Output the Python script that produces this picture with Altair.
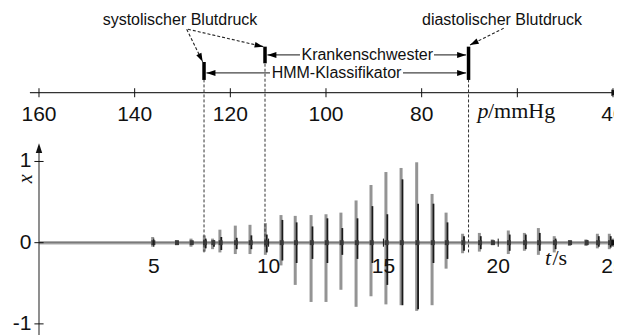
import altair as alt
import pandas as pd

# ---------------- data ----------------
# heart-beat bursts of the oscillometric signal x(t)
BEAT_T = [4.98, 6.01, 6.65, 7.23, 7.59, 7.91, 8.58, 9.22, 9.89, 10.57, 11.19, 11.88,
          12.53, 13.18, 13.84, 14.49, 15.14, 15.80, 16.48, 17.15, 17.76, 18.48, 19.21,
          19.77, 20.47, 21.17, 21.78, 22.47, 23.13, 23.85, 24.35, 24.87]
BEAT_HI = [0.07, 0.03, 0.05, 0.09, 0.05, 0.16, 0.21, 0.22, 0.24, 0.34, 0.33, 0.34,
           0.35, 0.37, 0.52, 0.71, 0.87, 0.92, 0.99, 0.60, 0.37, 0.11, 0.12,
           0.04, 0.15, 0.12, 0.18, 0.08, 0.03, 0.04, 0.11, 0.11]
BEAT_LO = [-0.05, -0.03, -0.05, -0.11, -0.08, -0.12, -0.14, -0.14, -0.15, -0.28, -0.52, -0.73,
           -0.73, -0.58, -0.79, -0.66, -0.76, -0.77, -0.84, -0.77, -0.32, -0.13, -0.11,
           -0.03, -0.14, -0.10, -0.15, -0.12, -0.04, -0.04, -0.07, -0.08]
CORE_HI = [0.02, 0.01, 0.02, 0.05, 0.03, 0.07, 0.06, 0.09, 0.10, 0.28, 0.25, 0.20,
           0.30, 0.18, 0.30, 0.45, 0.35, 0.78, 0.48, 0.48, 0.25, 0.08, 0.08,
           0.02, 0.10, 0.10, 0.12, 0.05, 0.02, 0.03, 0.08, 0.08]
CORE_LO = [-0.02, -0.01, -0.02, -0.07, -0.05, -0.09, -0.08, -0.08, -0.12, -0.22, -0.25, -0.20,
           -0.25, -0.15, -0.20, -0.25, -0.52, -0.77, -0.82, -0.25, -0.20, -0.10, -0.08,
           -0.02, -0.10, -0.08, -0.10, -0.08, -0.02, -0.03, -0.05, -0.06]
T_START, T_END = 0.0, 25.0

# axes
T_TICKS = [5, 10, 15, 20, 25]
T_LABELS = ["5", "10", "15", "20", "25"]
X_TICKS = [1, 0, -1]
X_LABELS = ["1", "0", "-1"]
P_TICKS = [160, 140, 120, 100, 80, 60, 40]
P_LABELED = [160, 140, 120, 100, 80, 40]          # the 60 label is replaced by the unit
P_LABELS = ["160", "140", "120", "100", "80", "40"]

# detected blood pressures (mmHg)
SYS_HMM = 125.5
SYS_NURSE = 112.75
DIA_HMM = 70.2
DIA_NURSE = 70.2

SYS_TEXT = "systolischer Blutdruck"
DIA_TEXT = "diastolischer Blutdruck"
NURSE_TEXT = "Krankenschwester"
HMM_TEXT = "HMM-Klassifikator"

# ---------------- scales ----------------
T_SCALE = alt.Scale(domain=[-1.35, 25.043], nice=False, zero=False)
P_SCALE = alt.Scale(domain=[166.48, 39.79], nice=False, zero=False)
Y_SCALE = alt.Scale(domain=[-1.137, 2.890], nice=False, zero=False)

SANS = "Liberation Sans"
SERIF = "Liberation Serif"
ARROW = "M0,0L-0.33,1L0.33,1Z"
INK = "#111111"


def XT(f):
    return alt.X(f, type="quantitative", scale=T_SCALE, axis=None)


def XP(f):
    return alt.X(f, type="quantitative", scale=P_SCALE, axis=None)


def YV(f):
    return alt.Y(f, type="quantitative", scale=Y_SCALE, axis=None)


def YD(v):
    return alt.YDatum(v, scale=Y_SCALE, axis=None)


beats = pd.DataFrame({"t": BEAT_T, "hi": BEAT_HI, "lo": BEAT_LO,
                      "chi": CORE_HI, "clo": CORE_LO})

layers = []

# baseline noise band
base = pd.DataFrame({"t0": [T_START], "t1": [T_END], "v": [0.0]})
layers.append(alt.Chart(base).mark_rule(color="#ababab", strokeWidth=3.5)
              .encode(x=XT("t0"), x2="t1", y=YV("v")))
# time axis line (thin, on the band)
tax = pd.DataFrame({"t0": [0.0], "t1": [25.6], "v": [0.0]})
layers.append(alt.Chart(tax).mark_rule(color="#6a6a6a", strokeWidth=0.9)
              .encode(x=XT("t0"), x2="t1", y=YV("v")))
# bursts
layers.append(alt.Chart(beats).mark_rule(color="#949494", strokeWidth=3, xOffset=-0.7)
              .encode(x=XT("t"), y=YV("lo"), y2="hi"))
layers.append(alt.Chart(beats).mark_rule(color="#1a1a1a", strokeWidth=1.8, xOffset=0.7)
              .encode(x=XT("t"), y=YV("clo"), y2="chi"))
layers.append(alt.Chart(beats).mark_rule(color="#3a3a3a", strokeWidth=4)
              .encode(x=XT("t"), y=YD(-0.03), y2=alt.Y2Datum(0.03)))

# time axis ticks and labels
tt = pd.DataFrame({"t": T_TICKS, "lab": T_LABELS})
layers.append(alt.Chart(tt).mark_rule(color=INK, strokeWidth=1)
              .encode(x=XT("t"), y=YD(-0.05), y2=alt.Y2Datum(0.05)))
layers.append(alt.Chart(tt).mark_text(font=SANS, fontSize=21, color=INK,
                                      align="center", baseline="middle")
              .encode(x=XT("t"), y=YD(-0.296), text="lab:N"))

# x axis (vertical)
yax = pd.DataFrame({"t": [0.0], "v0": [-1.137], "v1": [1.17]})
layers.append(alt.Chart(yax).mark_rule(color="#444444", strokeWidth=1.2)
              .encode(x=XT("t"), y=YV("v0"), y2="v1"))
yt = pd.DataFrame({"v": X_TICKS, "lab": X_LABELS})
layers.append(alt.Chart(yt).mark_rule(color=INK, strokeWidth=1)
              .encode(x=alt.XDatum(-0.2, scale=T_SCALE, axis=None), x2=alt.X2Datum(0.2),
                      y=YV("v")))
layers.append(alt.Chart(yt).mark_text(font=SANS, fontSize=21, color=INK,
                                      align="right", baseline="middle")
              .encode(x=alt.XDatum(-0.33, scale=T_SCALE, axis=None), y=YV("v"), text="lab:N"))

# axis arrowheads (time / x)
ah = pd.DataFrame({"t": [25.35, 0.0], "v": [0.0, 1.224], "ang": [90, 0]})
layers.append(alt.Chart(ah).mark_point(shape=ARROW, filled=True, size=380, color=INK,
                                       opacity=1, strokeWidth=0)
              .encode(x=XT("t"), y=YV("v"), angle=alt.Angle("ang:Q", scale=None)))

# axis titles
layers.append(alt.Chart(pd.DataFrame({"s": ["x"]})).mark_text(
    font=SERIF, fontSize=20, fontStyle="italic", angle=270, align="center",
    baseline="middle", color=INK)
    .encode(x=alt.XDatum(-0.566, scale=T_SCALE, axis=None), y=YD(0.785), text="s:N"))
layers.append(alt.Chart(pd.DataFrame({"s": ["t"]})).mark_text(
    font=SERIF, fontSize=22, fontStyle="italic", align="left", baseline="alphabetic",
    color=INK)
    .encode(x=alt.XDatum(22.04, scale=T_SCALE, axis=None), y=YD(-0.275), text="s:N"))
layers.append(alt.Chart(pd.DataFrame({"s": ["/s"]})).mark_text(
    font=SERIF, fontSize=22, align="left", baseline="alphabetic", color=INK)
    .encode(x=alt.XDatum(22.36, scale=T_SCALE, axis=None), y=YD(-0.275), text="s:N"))

# ---------------- pressure axis (top) ----------------
pax = pd.DataFrame({"p0": [161.9], "p1": [38.5], "v": [1.847]})
layers.append(alt.Chart(pax).mark_rule(color="#333333", strokeWidth=1.2)
              .encode(x=XP("p0"), x2="p1", y=YV("v")))
layers.append(alt.Chart(pd.DataFrame({"p": [38.3], "v": [1.847], "ang": [90]}))
              .mark_point(shape=ARROW, filled=True, size=380, color=INK, opacity=1,
                          strokeWidth=0)
              .encode(x=XP("p"), y=YV("v"), angle=alt.Angle("ang:Q", scale=None)))
pt = pd.DataFrame({"p": P_TICKS})
layers.append(alt.Chart(pt).mark_rule(color=INK, strokeWidth=1)
              .encode(x=XP("p"), y=YD(1.791), y2=alt.Y2Datum(1.902)))
pl = pd.DataFrame({"p": P_LABELED, "lab": P_LABELS})
layers.append(alt.Chart(pl).mark_text(font=SANS, fontSize=21, color=INK,
                                      align="center", baseline="middle")
              .encode(x=XP("p"), y=YD(1.576), text="lab:N"))
layers.append(alt.Chart(pd.DataFrame({"s": ["p"]})).mark_text(
    font=SERIF, fontSize=22, fontStyle="italic", align="left", baseline="alphabetic",
    color=INK)
    .encode(x=alt.XDatum(68.33, scale=P_SCALE, axis=None), y=YD(1.532), text="s:N"))
layers.append(alt.Chart(pd.DataFrame({"s": ["/mmHg"]})).mark_text(
    font=SERIF, fontSize=22, align="left", baseline="alphabetic", color=INK)
    .encode(x=alt.XDatum(66.13, scale=P_SCALE, axis=None), y=YD(1.532), text="s:N"))

# ---------------- annotations ----------------
bars = pd.DataFrame({"p": [SYS_HMM, SYS_NURSE, DIA_HMM],
                     "v0": [2.004, 2.209, 2.004], "v1": [2.225, 2.414, 2.414],
                     "d0": [-0.12, -0.05, -0.12]})
layers.append(alt.Chart(bars).mark_rule(color="#333333", strokeWidth=1, strokeDash=[3, 2])
              .encode(x=XP("p"), y=YV("d0"), y2="v0"))
layers.append(alt.Chart(bars).mark_rule(color="#000000", strokeWidth=3.5)
              .encode(x=XP("p"), y=YV("v0"), y2="v1"))

harrows = pd.DataFrame({"p0": [105.44, 77.42, 111.71, 83.90],
                        "p1": [SYS_NURSE - 0.5, DIA_NURSE + 0.5, SYS_HMM - 0.5, DIA_HMM + 0.5],
                        "v": [2.312, 2.312, 2.09, 2.09],
                        "ang": [270, 90, 270, 90]})
layers.append(alt.Chart(harrows).mark_rule(color="#444444", strokeWidth=1.3)
              .encode(x=XP("p0"), x2="p1", y=YV("v")))
layers.append(alt.Chart(harrows).mark_point(shape=ARROW, filled=True, size=324,
                                            color="#000000", opacity=1, strokeWidth=0)
              .encode(x=XP("p1"), y=YV("v"), angle=alt.Angle("ang:Q", scale=None)))

darrows = pd.DataFrame({"p0": [129.12, 128.85, 62.85],
                        "v0": [2.628, 2.628, 2.640],
                        "p1": [125.78, 113.11, 69.89],
                        "v1": [2.229, 2.414, 2.435],
                        "ang": [153.7, 103.0, 243.6]})
layers.append(alt.Chart(darrows).mark_rule(color="#222222", strokeWidth=1.1, strokeDash=[3, 2])
              .encode(x=XP("p0"), x2="p1", y=YV("v0"), y2="v1"))
layers.append(alt.Chart(darrows).mark_point(shape=ARROW, filled=True, size=300,
                                            color="#000000", opacity=1, strokeWidth=0)
              .encode(x=XP("p1"), y=YV("v1"), angle=alt.Angle("ang:Q", scale=None)))

labels = pd.DataFrame({"p": [130.52, 63.20, 91.37, 97.80],
                       "v": [2.743, 2.743, 2.312, 2.09],
                       "s": [SYS_TEXT, DIA_TEXT, NURSE_TEXT, HMM_TEXT]})
layers.append(alt.Chart(labels).mark_text(font=SANS, fontSize=16, color=INK,
                                          align="center", baseline="middle")
              .encode(x=XP("p"), y=YV("v"), text="s:N"))

chart = (alt.layer(*layers)
         .resolve_scale(x="independent")
         .properties(width=606, height=327, padding=0,
                     autosize=alt.AutoSizeParams(type="none"))
         .configure_view(strokeWidth=0))

chart.save("out.html", embed_options={"renderer": "svg", "actions": False})
